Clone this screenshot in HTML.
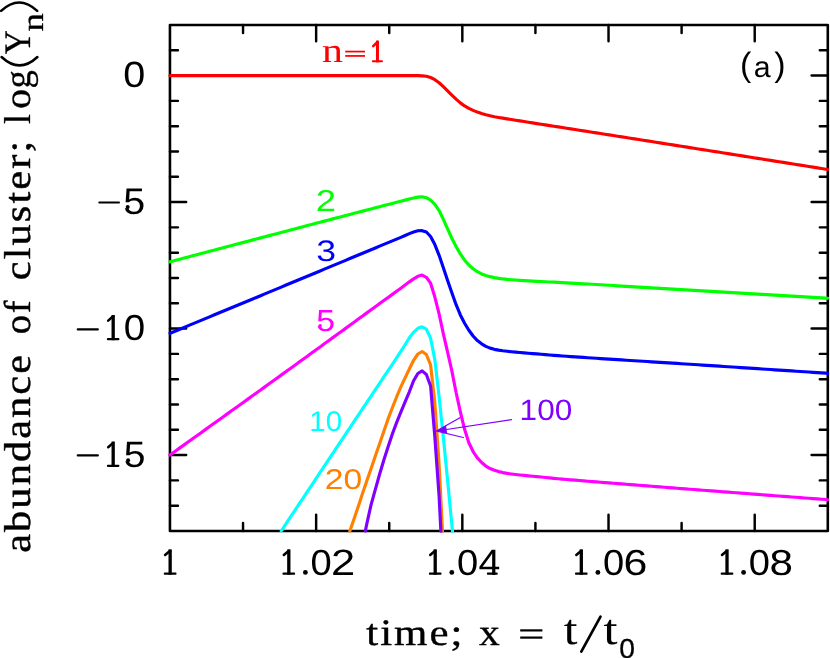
<!DOCTYPE html>
<html><head><meta charset="utf-8"><title>cluster abundance</title>
<style>
html,body{margin:0;padding:0;background:#fff;overflow:hidden;}
svg{display:block;position:absolute;left:0;top:0;will-change:transform;}
.sans{font-family:"Liberation Sans",sans-serif;}
.serif{font-family:"Liberation Serif",serif;}
.mono{font-family:"Liberation Mono",monospace;}
text{font-kerning:none;stroke-linejoin:round;text-rendering:geometricPrecision;}
</style></head><body>
<svg width="830" height="658" viewBox="0 0 830 658">
<rect width="830" height="658" fill="#fff"/>
<defs><clipPath id="cp"><rect x="168.15" y="24.95" width="661.05" height="507.75"/></clipPath></defs>

<g stroke="#000" fill="none">
<rect x="169.95" y="24.95" width="657.85" height="506.05" stroke-width="2.6" stroke-linejoin="round"/>
<path d="M243.04 24.95 v8.0 M243.04 531.00 v-8.0 M316.14 24.95 v16.2 M316.14 531.00 v-16.2 M389.23 24.95 v8.0 M389.23 531.00 v-8.0 M462.33 24.95 v16.2 M462.33 531.00 v-16.2 M535.42 24.95 v8.0 M535.42 531.00 v-8.0 M608.52 24.95 v16.2 M608.52 531.00 v-16.2 M681.61 24.95 v8.0 M681.61 531.00 v-8.0 M754.71 24.95 v16.2 M754.71 531.00 v-16.2 M169.95 505.70 h8.0 M827.80 505.70 h-8.0 M169.95 480.39 h8.0 M827.80 480.39 h-8.0 M169.95 455.09 h16.2 M827.80 455.09 h-16.2 M169.95 429.79 h8.0 M827.80 429.79 h-8.0 M169.95 404.49 h8.0 M827.80 404.49 h-8.0 M169.95 379.19 h8.0 M827.80 379.19 h-8.0 M169.95 353.88 h8.0 M827.80 353.88 h-8.0 M169.95 328.58 h16.2 M827.80 328.58 h-16.2 M169.95 303.28 h8.0 M827.80 303.28 h-8.0 M169.95 277.98 h8.0 M827.80 277.98 h-8.0 M169.95 252.67 h8.0 M827.80 252.67 h-8.0 M169.95 227.37 h8.0 M827.80 227.37 h-8.0 M169.95 202.07 h16.2 M827.80 202.07 h-16.2 M169.95 176.76 h8.0 M827.80 176.76 h-8.0 M169.95 151.46 h8.0 M827.80 151.46 h-8.0 M169.95 126.16 h8.0 M827.80 126.16 h-8.0 M169.95 100.86 h8.0 M827.80 100.86 h-8.0 M169.95 75.56 h16.2 M827.80 75.56 h-16.2 M169.95 50.25 h8.0 M827.80 50.25 h-8.0 " stroke-width="2.45" stroke-linecap="round"/>
</g>
<g fill="none" stroke-width="3.15" stroke-linejoin="round" stroke-linecap="round" clip-path="url(#cp)">
<path d="M169.95 75.60 L171.35 75.60 L175.60 75.60 L179.85 75.60 L184.10 75.60 L188.35 75.60 L192.60 75.60 L196.85 75.60 L201.10 75.60 L205.35 75.60 L209.60 75.60 L213.85 75.60 L218.10 75.60 L222.35 75.60 L226.60 75.60 L230.85 75.60 L235.10 75.60 L239.35 75.60 L243.60 75.60 L247.85 75.60 L252.10 75.60 L256.35 75.60 L260.60 75.60 L264.85 75.60 L269.10 75.60 L273.35 75.60 L277.60 75.60 L281.85 75.60 L286.10 75.60 L290.35 75.60 L294.60 75.60 L298.85 75.60 L303.10 75.60 L307.35 75.60 L311.60 75.60 L315.85 75.60 L320.10 75.60 L324.35 75.60 L328.60 75.60 L332.85 75.60 L337.10 75.60 L341.35 75.60 L345.60 75.60 L349.85 75.60 L354.10 75.60 L358.35 75.60 L362.60 75.60 L366.85 75.60 L371.10 75.60 L375.35 75.60 L379.60 75.60 L383.85 75.60 L388.10 75.60 L392.35 75.60 L396.60 75.60 L400.85 75.60 L405.10 75.60 L409.35 75.60 L413.60 75.59 L417.85 75.63 L422.10 75.82 L426.35 76.22 L430.60 77.53 L434.85 79.68 L439.10 82.73 L443.35 86.55 L447.60 90.79 L451.85 95.10 L456.10 99.12 L460.35 102.89 L464.60 105.97 L468.85 108.35 L473.10 110.37 L477.35 112.10 L481.60 113.52 L485.85 114.76 L490.10 115.81 L494.35 116.69 L498.60 117.46 L502.85 118.17 L507.10 118.84 L511.35 119.51 L515.60 120.19 L519.85 120.87 L524.10 121.55 L528.35 122.23 L532.60 122.90 L536.85 123.58 L541.10 124.25 L545.35 124.92 L549.60 125.59 L553.85 126.25 L558.10 126.90 L562.35 127.55 L566.60 128.21 L570.85 128.87 L575.10 129.53 L579.35 130.20 L583.60 130.87 L587.85 131.53 L592.10 132.20 L596.35 132.87 L600.60 133.54 L604.85 134.20 L609.10 134.87 L613.35 135.54 L617.60 136.21 L621.85 136.88 L626.10 137.55 L630.35 138.21 L634.60 138.88 L638.85 139.55 L643.10 140.22 L647.35 140.89 L651.60 141.56 L655.85 142.23 L660.10 142.90 L664.35 143.57 L668.60 144.24 L672.85 144.91 L677.10 145.58 L681.35 146.25 L685.60 146.92 L689.85 147.60 L694.10 148.27 L698.35 148.94 L702.60 149.61 L706.85 150.28 L711.10 150.96 L715.35 151.63 L719.60 152.30 L723.85 152.98 L728.10 153.65 L732.35 154.33 L736.60 155.00 L740.85 155.68 L745.10 156.35 L749.35 157.03 L753.60 157.70 L757.85 158.38 L762.10 159.05 L766.35 159.73 L770.60 160.40 L774.85 161.08 L779.10 161.76 L783.35 162.43 L787.60 163.11 L791.85 163.78 L796.10 164.46 L800.35 165.14 L804.60 165.81 L808.85 166.49 L813.10 167.16 L817.35 167.84 L821.60 168.51 L825.85 169.19 L827.80 169.50" stroke="#ff0000"/>
<path d="M169.95 261.80 L171.35 261.43 L175.60 260.31 L179.85 259.19 L184.10 258.07 L188.35 256.94 L192.60 255.82 L196.85 254.70 L201.10 253.58 L205.35 252.46 L209.60 251.33 L213.85 250.21 L218.10 249.09 L222.35 247.97 L226.60 246.85 L230.85 245.73 L235.10 244.60 L239.35 243.48 L243.60 242.36 L247.85 241.24 L252.10 240.12 L256.35 239.00 L260.60 237.88 L264.85 236.76 L269.10 235.64 L273.35 234.52 L277.60 233.40 L281.85 232.28 L286.10 231.16 L290.35 230.04 L294.60 228.92 L298.85 227.80 L303.10 226.69 L307.35 225.57 L311.60 224.45 L315.85 223.34 L320.10 222.23 L324.35 221.11 L328.60 220.00 L332.85 218.89 L337.10 217.78 L341.35 216.67 L345.60 215.56 L349.85 214.45 L354.10 213.34 L358.35 212.24 L362.60 211.13 L366.85 210.02 L371.10 208.92 L375.35 207.81 L379.60 206.70 L383.85 205.60 L388.10 204.50 L392.35 203.40 L396.60 202.33 L400.85 201.25 L405.10 200.14 L409.35 199.03 L413.60 197.99 L417.85 197.10 L422.10 196.83 L426.35 197.73 L430.60 200.17 L434.85 204.35 L439.10 210.52 L443.35 219.37 L447.60 228.91 L451.85 238.24 L456.10 246.61 L460.35 253.98 L464.60 260.20 L468.85 264.96 L473.10 268.70 L477.35 271.73 L481.60 273.96 L485.85 275.46 L490.10 276.65 L494.35 277.63 L498.60 278.37 L502.85 278.94 L507.10 279.40 L511.35 279.75 L515.60 280.05 L519.85 280.32 L524.10 280.58 L528.35 280.84 L532.60 281.08 L536.85 281.31 L541.10 281.53 L545.35 281.74 L549.60 281.96 L553.85 282.17 L558.10 282.39 L562.35 282.62 L566.60 282.85 L570.85 283.08 L575.10 283.32 L579.35 283.56 L583.60 283.81 L587.85 284.05 L592.10 284.30 L596.35 284.55 L600.60 284.80 L604.85 285.05 L609.10 285.30 L613.35 285.55 L617.60 285.81 L621.85 286.06 L626.10 286.31 L630.35 286.56 L634.60 286.82 L638.85 287.07 L643.10 287.32 L647.35 287.57 L651.60 287.83 L655.85 288.08 L660.10 288.33 L664.35 288.59 L668.60 288.84 L672.85 289.09 L677.10 289.34 L681.35 289.60 L685.60 289.85 L689.85 290.10 L694.10 290.35 L698.35 290.60 L702.60 290.85 L706.85 291.10 L711.10 291.35 L715.35 291.60 L719.60 291.85 L723.85 292.10 L728.10 292.35 L732.35 292.60 L736.60 292.85 L740.85 293.10 L745.10 293.35 L749.35 293.60 L753.60 293.85 L757.85 294.10 L762.10 294.35 L766.35 294.60 L770.60 294.85 L774.85 295.10 L779.10 295.35 L783.35 295.59 L787.60 295.84 L791.85 296.09 L796.10 296.34 L800.35 296.59 L804.60 296.84 L808.85 297.09 L813.10 297.34 L817.35 297.59 L821.60 297.84 L825.85 298.09 L827.80 298.20" stroke="#00ff00"/>
<path d="M169.95 333.30 L171.35 332.72 L175.60 330.95 L179.85 329.19 L184.10 327.43 L188.35 325.66 L192.60 323.90 L196.85 322.13 L201.10 320.37 L205.35 318.60 L209.60 316.84 L213.85 315.08 L218.10 313.31 L222.35 311.55 L226.60 309.78 L230.85 308.02 L235.10 306.25 L239.35 304.49 L243.60 302.72 L247.85 300.96 L252.10 299.20 L256.35 297.43 L260.60 295.67 L264.85 293.90 L269.10 292.14 L273.35 290.37 L277.60 288.61 L281.85 286.84 L286.10 285.08 L290.35 283.31 L294.60 281.54 L298.85 279.78 L303.10 278.01 L307.35 276.24 L311.60 274.48 L315.85 272.71 L320.10 270.94 L324.35 269.17 L328.60 267.40 L332.85 265.64 L337.10 263.87 L341.35 262.10 L345.60 260.33 L349.85 258.56 L354.10 256.79 L358.35 255.02 L362.60 253.25 L366.85 251.48 L371.10 249.71 L375.35 247.94 L379.60 246.17 L383.85 244.40 L388.10 242.63 L392.35 240.87 L396.60 239.11 L400.85 237.33 L405.10 235.47 L409.35 233.61 L413.60 231.93 L417.85 230.78 L422.10 230.63 L426.35 232.02 L430.60 236.50 L434.85 244.58 L439.10 255.36 L443.35 267.68 L447.60 280.43 L451.85 292.85 L456.10 304.72 L460.35 314.95 L464.60 323.25 L468.85 330.21 L473.10 336.04 L477.35 340.60 L481.60 343.87 L485.85 346.33 L490.10 348.12 L494.35 349.36 L498.60 350.14 L502.85 350.76 L507.10 351.28 L511.35 351.72 L515.60 352.11 L519.85 352.48 L524.10 352.84 L528.35 353.20 L532.60 353.56 L536.85 353.93 L541.10 354.28 L545.35 354.63 L549.60 354.98 L553.85 355.31 L558.10 355.63 L562.35 355.95 L566.60 356.26 L570.85 356.56 L575.10 356.86 L579.35 357.16 L583.60 357.44 L587.85 357.73 L592.10 358.01 L596.35 358.29 L600.60 358.57 L604.85 358.84 L609.10 359.11 L613.35 359.39 L617.60 359.66 L621.85 359.93 L626.10 360.20 L630.35 360.47 L634.60 360.74 L638.85 361.01 L643.10 361.27 L647.35 361.54 L651.60 361.81 L655.85 362.08 L660.10 362.35 L664.35 362.62 L668.60 362.89 L672.85 363.16 L677.10 363.43 L681.35 363.70 L685.60 363.97 L689.85 364.24 L694.10 364.52 L698.35 364.79 L702.60 365.07 L706.85 365.35 L711.10 365.62 L715.35 365.90 L719.60 366.18 L723.85 366.46 L728.10 366.73 L732.35 367.01 L736.60 367.29 L740.85 367.57 L745.10 367.85 L749.35 368.13 L753.60 368.41 L757.85 368.69 L762.10 368.97 L766.35 369.25 L770.60 369.53 L774.85 369.81 L779.10 370.09 L783.35 370.37 L787.60 370.65 L791.85 370.93 L796.10 371.21 L800.35 371.49 L804.60 371.77 L808.85 372.05 L813.10 372.33 L817.35 372.61 L821.60 372.89 L825.85 373.17 L827.80 373.30" stroke="#0000ff"/>
<path d="M169.95 455.00 L171.35 453.99 L175.60 450.94 L179.85 447.90 L184.10 444.85 L188.35 441.80 L192.60 438.75 L196.85 435.70 L201.10 432.66 L205.35 429.61 L209.60 426.56 L213.85 423.51 L218.10 420.46 L222.35 417.41 L226.60 414.36 L230.85 411.31 L235.10 408.26 L239.35 405.21 L243.60 402.16 L247.85 399.10 L252.10 396.05 L256.35 393.00 L260.60 389.94 L264.85 386.88 L269.10 383.82 L273.35 380.76 L277.60 377.70 L281.85 374.63 L286.10 371.57 L290.35 368.49 L294.60 365.42 L298.85 362.34 L303.10 359.26 L307.35 356.18 L311.60 353.09 L315.85 350.01 L320.10 346.92 L324.35 343.83 L328.60 340.74 L332.85 337.64 L337.10 334.55 L341.35 331.45 L345.60 328.36 L349.85 325.26 L354.10 322.16 L358.35 319.06 L362.60 315.97 L366.85 312.87 L371.10 309.77 L375.35 306.68 L379.60 303.59 L383.85 300.50 L388.10 297.42 L392.35 294.35 L396.60 291.30 L400.85 288.21 L405.10 285.03 L409.35 281.84 L413.60 278.86 L417.85 276.29 L422.10 275.10 L426.35 277.29 L430.60 283.20 L434.85 297.06 L439.10 313.88 L443.35 333.87 L447.60 352.22 L451.85 370.84 L456.10 392.51 L460.35 411.79 L464.60 429.35 L468.85 442.76 L473.10 451.54 L477.35 457.93 L481.60 462.54 L485.85 466.06 L490.10 468.52 L494.35 470.31 L498.60 471.60 L502.85 472.59 L507.10 473.36 L511.35 473.99 L515.60 474.53 L519.85 474.99 L524.10 475.41 L528.35 475.81 L532.60 476.20 L536.85 476.61 L541.10 477.03 L545.35 477.47 L549.60 477.90 L553.85 478.31 L558.10 478.71 L562.35 479.09 L566.60 479.47 L570.85 479.84 L575.10 480.19 L579.35 480.55 L583.60 480.89 L587.85 481.24 L592.10 481.58 L596.35 481.92 L600.60 482.26 L604.85 482.60 L609.10 482.93 L613.35 483.27 L617.60 483.60 L621.85 483.94 L626.10 484.27 L630.35 484.60 L634.60 484.94 L638.85 485.27 L643.10 485.60 L647.35 485.93 L651.60 486.26 L655.85 486.59 L660.10 486.92 L664.35 487.25 L668.60 487.58 L672.85 487.90 L677.10 488.23 L681.35 488.56 L685.60 488.89 L689.85 489.22 L694.10 489.55 L698.35 489.87 L702.60 490.20 L706.85 490.53 L711.10 490.85 L715.35 491.18 L719.60 491.50 L723.85 491.83 L728.10 492.15 L732.35 492.48 L736.60 492.80 L740.85 493.12 L745.10 493.44 L749.35 493.77 L753.60 494.09 L757.85 494.41 L762.10 494.73 L766.35 495.06 L770.60 495.38 L774.85 495.70 L779.10 496.02 L783.35 496.34 L787.60 496.66 L791.85 496.98 L796.10 497.30 L800.35 497.63 L804.60 497.95 L808.85 498.27 L813.10 498.59 L817.35 498.91 L821.60 499.23 L825.85 499.55 L827.80 499.70" stroke="#ff00ff"/>
<path d="M281.20 531.00 L281.85 530.02 L286.10 523.63 L290.35 517.24 L294.60 510.84 L298.85 504.45 L303.10 498.06 L307.35 491.67 L311.60 485.28 L315.85 478.88 L320.10 472.49 L324.35 466.11 L328.60 459.72 L332.85 453.33 L337.10 446.95 L341.35 440.57 L345.60 434.20 L349.85 427.83 L354.10 421.46 L358.35 415.10 L362.60 408.73 L366.85 402.37 L371.10 396.01 L375.35 389.66 L379.60 383.30 L383.85 376.95 L388.10 370.63 L392.35 364.27 L396.60 357.83 L400.85 351.33 L405.10 344.74 L409.35 337.70 L413.60 332.30 L417.85 328.30 L422.10 326.80 L426.35 329.20 L430.60 338.10 L434.85 360.00 L439.10 396.60 L443.35 437.50 L447.60 480.40 L451.85 524.50 L452.50 531.40" stroke="#00ffff"/>
<path d="M349.80 531.20 L354.10 518.68 L358.35 506.17 L362.60 493.36 L366.85 480.75 L371.10 468.41 L375.35 456.07 L379.60 443.67 L383.85 431.30 L388.10 418.91 L392.35 407.69 L396.60 396.96 L400.85 386.94 L405.10 377.83 L409.35 369.00 L413.60 360.30 L417.85 354.00 L422.10 351.50 L426.35 354.50 L430.60 365.00 L434.85 403.00 L439.10 464.60 L442.50 531.40" stroke="#ff8000"/>
<path d="M365.30 531.20 L366.85 523.58 L371.10 504.63 L375.35 489.39 L379.60 474.29 L383.85 460.02 L388.10 446.85 L392.35 434.06 L396.60 422.66 L400.85 412.08 L405.10 401.81 L409.35 391.80 L413.60 380.80 L417.85 373.50 L422.10 370.90 L426.35 374.50 L430.60 386.00 L434.85 437.00 L439.10 496.50 L440.90 531.40" stroke="#8000ff"/>
</g>
<g stroke="#8000ff" stroke-width="1.25" fill="none" stroke-linecap="round"><path d="M511.4 419.6 L436.5 431.0 M459.9 417.7 L436.5 431.0 L463.3 437.5"/><path d="M436.5 431.0 L446.0 425.6 L447.2 433.6 Z" fill="#8000ff" stroke="none"/></g>
<text class="sans" transform="matrix(0.3954 0 0 0.3644 123.26 87.24)" font-size="100" fill="#000">0</text>
<rect x="98.30" y="201.40" width="21.70" height="2.2" rx="1" fill="#000"/>
<text class="sans" transform="matrix(0.3944 0 0 0.3698 123.22 213.64)" font-size="100" fill="#000">5</text>
<rect x="76.70" y="328.30" width="22.20" height="2.2" rx="1" fill="#000"/>
<g fill="#000" stroke="none"><rect x="111.53" y="315.00" width="3.30" height="25.20"/><rect x="106.90" y="338.10" width="12.50" height="2.1" rx="0.8"/><path d="M108.20 320.60 L113.12 316.30" stroke="#000" stroke-width="2.5" stroke-linecap="round" fill="none"/></g>
<text class="sans" transform="matrix(0.3849 0 0 0.3602 123.70 340.15)" font-size="100" fill="#000">0</text>
<rect x="76.70" y="454.30" width="22.20" height="2.2" rx="1" fill="#000"/>
<g fill="#000" stroke="none"><rect x="111.53" y="441.60" width="3.30" height="25.30"/><rect x="106.90" y="464.80" width="12.50" height="2.1" rx="0.8"/><path d="M108.20 447.20 L113.12 442.90" stroke="#000" stroke-width="2.5" stroke-linecap="round" fill="none"/></g>
<text class="sans" transform="matrix(0.3902 0 0 0.3669 123.64 466.84)" font-size="100" fill="#000">5</text>
<circle cx="127.7" cy="206.9" r="2.0" fill="#000"/><circle cx="128.1" cy="460.2" r="2.0" fill="#000"/><circle cx="320.2" cy="325.6" r="1.7" fill="#ff00ff"/>
<g fill="#000" stroke="none"><rect x="168.50" y="549.40" width="3.30" height="25.30"/><rect x="163.80" y="572.60" width="12.70" height="2.1" rx="0.8"/><path d="M165.10 555.00 L170.10 550.70" stroke="#000" stroke-width="2.5" stroke-linecap="round" fill="none"/></g>
<g fill="#000" stroke="none"><rect x="287.16" y="549.40" width="3.30" height="25.30"/><rect x="282.50" y="572.60" width="12.60" height="2.1" rx="0.8"/><path d="M283.80 555.00 L288.76 550.70" stroke="#000" stroke-width="2.5" stroke-linecap="round" fill="none"/></g><circle cx="305.40" cy="572.40" r="2.4" fill="#000"/><text class="sans" transform="matrix(0.3807 0 0 0.3616 310.61 574.65)" font-size="100" fill="#000">0</text><text class="sans" transform="matrix(0.4346 0 0 0.3666 330.91 575.00)" font-size="100" fill="#000">2</text>
<g fill="#000" stroke="none"><rect x="433.56" y="549.40" width="3.30" height="25.30"/><rect x="428.90" y="572.60" width="12.60" height="2.1" rx="0.8"/><path d="M430.20 555.00 L435.16 550.70" stroke="#000" stroke-width="2.5" stroke-linecap="round" fill="none"/></g><circle cx="451.80" cy="572.40" r="2.4" fill="#000"/><text class="sans" transform="matrix(0.3807 0 0 0.3616 457.01 574.65)" font-size="100" fill="#000">0</text><text class="sans" transform="matrix(0.3929 0 0 0.3677 478.60 574.70)" font-size="100" fill="#000">4</text><rect x="486.90" y="572.60" width="10.8" height="2.1" rx="0.8" fill="#000"/>
<g fill="#000" stroke="none"><rect x="579.66" y="549.40" width="3.30" height="25.30"/><rect x="575.00" y="572.60" width="12.60" height="2.1" rx="0.8"/><path d="M576.30 555.00 L581.26 550.70" stroke="#000" stroke-width="2.5" stroke-linecap="round" fill="none"/></g><circle cx="597.90" cy="572.40" r="2.4" fill="#000"/><text class="sans" transform="matrix(0.3807 0 0 0.3616 603.11 574.65)" font-size="100" fill="#000">0</text><text class="sans" transform="matrix(0.4291 0 0 0.3616 623.42 574.65)" font-size="100" fill="#000">6</text>
<g fill="#000" stroke="none"><rect x="725.36" y="549.40" width="3.30" height="25.30"/><rect x="720.70" y="572.60" width="12.60" height="2.1" rx="0.8"/><path d="M722.00 555.00 L726.96 550.70" stroke="#000" stroke-width="2.5" stroke-linecap="round" fill="none"/></g><circle cx="743.60" cy="572.40" r="2.4" fill="#000"/><text class="sans" transform="matrix(0.3807 0 0 0.3616 748.81 574.65)" font-size="100" fill="#000">0</text><text class="sans" transform="matrix(0.4220 0 0 0.3616 769.47 574.65)" font-size="100" fill="#000">8</text>
<text class="sans" transform="matrix(0.3644 0 0 0.3022 315.87 210.70)" font-size="100" fill="#00ff00">2</text>
<text class="sans" transform="matrix(0.3564 0 0 0.2966 316.34 261.11)" font-size="100" fill="#0000ff">3</text>
<text class="sans" transform="matrix(0.3375 0 0 0.3038 316.35 330.90)" font-size="100" fill="#ff00ff">5</text>
<text class="sans" transform="matrix(0.2949 0 0 0.2853 309.35 430.92)" font-size="100" fill="#00ffff">10</text>
<text class="sans" transform="matrix(0.3373 0 0 0.2853 324.70 489.22)" font-size="100" fill="#ff8000">20</text>
<text class="sans" transform="matrix(0.3155 0 0 0.2938 519.60 420.31)" font-size="100" fill="#8000ff">100</text>
<text class="sans" transform="matrix(0.3394 0 0 0.3403 740.10 75.96)" font-size="100" fill="#000">(</text>
<text class="sans" transform="matrix(0.3037 0 0 0.2939 753.71 76.91)" font-size="100" fill="#000">a</text>
<text class="sans" transform="matrix(0.3394 0 0 0.3403 774.30 75.96)" font-size="100" fill="#000">)</text>
<text class="serif" transform="matrix(1.2111 0 0 1 321.94 62.30)" font-size="34.50" fill="#ff0000" stroke="#ff0000" stroke-width="0.05">n</text>
<rect x="345.2" y="50.7" width="19.8" height="1.75" fill="#ff0000"/><rect x="345.2" y="55.05" width="19.8" height="1.75" fill="#ff0000"/>
<g fill="#ff0000" stroke="none"><rect x="375.97" y="40.60" width="3.00" height="21.70"/><rect x="371.90" y="60.20" width="11.00" height="2.1" rx="0.8"/><path d="M373.20 46.20 L377.57 41.90" stroke="#ff0000" stroke-width="2.5" stroke-linecap="round" fill="none"/></g>
<text class="serif" transform="matrix(1.1456 0 0 1 366.18 644.50)" font-size="37.40" fill="#000" stroke="#000" stroke-width="0.42" letter-spacing="1.80">time;</text>
<text class="serif" transform="matrix(1.1108 0 0 1 478.93 644.50)" font-size="37.40" fill="#000" stroke="#000" stroke-width="0.30" letter-spacing="1.80">x</text>
<rect x="520.2" y="629.3" width="22.2" height="2.2" fill="#000"/><rect x="520.2" y="636.5" width="22.2" height="2.2" fill="#000"/>
<text class="serif" transform="matrix(0.4920 0 0 0.4312 563.72 644.48)" font-size="100" fill="#000" stroke="#000" stroke-width="0.17">t</text>
<path d="M581.3 651.6 L600.5 616.6" stroke="#000" stroke-width="2.7" stroke-linecap="round" fill="none"/>
<text class="serif" transform="matrix(0.5034 0 0 0.4312 603.51 644.48)" font-size="100" fill="#000" stroke="#000" stroke-width="0.17">t</text>
<text class="sans" transform="matrix(0.2824 0 0 0.2740 619.30 657.63)" font-size="100" fill="#000" stroke="#000" stroke-width="1.08">0</text>
<g transform="translate(30.2 551.3) rotate(-90)">
<text class="serif" transform="matrix(1.1352 0 0 1 -1.49 0.00)" font-size="37.40" fill="#000" stroke="#000" stroke-width="0.42" letter-spacing="1.80">abundance</text>
<text class="serif" transform="matrix(1.0308 0 0 1 217.03 0.00)" font-size="37.40" fill="#000" stroke="#000" stroke-width="0.42" letter-spacing="1.80">of</text>
<text class="serif" transform="matrix(1.1369 0 0 1 271.08 0.00)" font-size="37.40" fill="#000" stroke="#000" stroke-width="0.42" letter-spacing="1.80">cluster;</text>
<text class="serif" transform="matrix(0.9558 0 0 1 427.18 0.00)" font-size="37.40" fill="#000" stroke="#000" stroke-width="0.30" letter-spacing="1.80">l</text>
<text class="serif" transform="matrix(1.0725 0 0 1 442.37 0.00)" font-size="37.40" fill="#000" stroke="#000" stroke-width="0.30" letter-spacing="1.80">o</text>
<text class="serif" transform="matrix(0.9768 0 0 1 462.73 0.00)" font-size="37.40" fill="#000" stroke="#000" stroke-width="0.30" letter-spacing="1.80">g</text>
<path d="M494.3 -28.6 Q477.5 -10.7 494.3 7.2" fill="none" stroke="#000" stroke-width="2.5" stroke-linecap="round"/>
<text class="serif" transform="matrix(0.8893 0 0 1 497.13 0.00)" font-size="37.40" fill="#000" stroke="#000" stroke-width="0.30" letter-spacing="1.80">Y</text>
<text class="serif" transform="matrix(1.2001 0 0 1 519.76 13.00)" font-size="30.67" fill="#000" stroke="#000" stroke-width="0.30">n</text>
<path d="M540.4 -29.1 Q557.2 -11.0 540.4 7.0" fill="none" stroke="#000" stroke-width="2.5" stroke-linecap="round"/>
</g>
</svg></body></html>
